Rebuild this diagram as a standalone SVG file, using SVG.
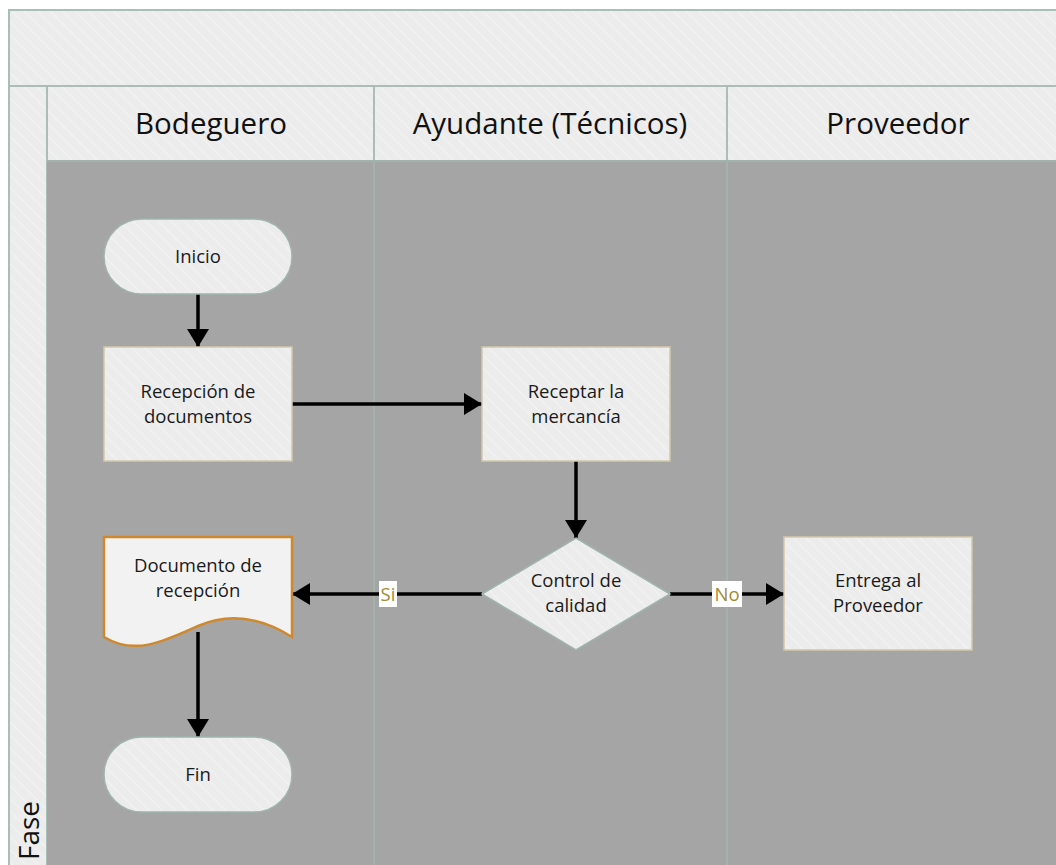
<svg xmlns="http://www.w3.org/2000/svg" width="1056" height="865" viewBox="0 0 1056 865">
<defs>
<pattern id="hatch" width="9" height="9" patternUnits="userSpaceOnUse" patternTransform="rotate(-45)">
<rect width="9" height="9" fill="#ececec"/>
<line x1="0" y1="0" x2="0" y2="9" stroke="#f6f6f6" stroke-width="1.5"/>
</pattern>
<marker id="ah" markerWidth="20" markerHeight="22" refX="18" refY="11" orient="auto" markerUnits="userSpaceOnUse">
<path d="M0,0 L18,11 L0,22 Z" fill="#000"/>
</marker>
<style>
.hdr{fill:url(#hatch);stroke:#a9bfb6;stroke-width:2}
.lane{fill:#a5a5a5}
.div{stroke:#9fb5ac;stroke-width:2}
.term{fill:url(#hatch);stroke:#9fb5ac;stroke-width:1.5}
.proc{fill:url(#hatch);stroke:#d2c8a8;stroke-width:1.5}
.dec{fill:url(#hatch);stroke:#9fb5ac;stroke-width:1.5}
.doc{fill:#f2f2f2;stroke:#d0882c;stroke-width:2.5}
.t{font-family:"Open Sans","Noto Sans",sans-serif;font-size:18.5px;fill:#1a1a1a;text-anchor:middle}
.h{font-family:"Open Sans","Noto Sans",sans-serif;font-size:29.5px;fill:#111;text-anchor:middle}
.c{stroke:#000;stroke-width:3.5;fill:none}
.lb{fill:#fff}
.lt{font-family:"Open Sans","Noto Sans",sans-serif;font-size:18.5px;fill:#a08a35;text-anchor:middle}
</style>
</defs>
<rect width="1056" height="865" fill="#fff"/>
<g id="pool">
<rect class="hdr" x="9" y="10" width="1060" height="76"/>
<rect class="hdr" x="9" y="86" width="38" height="790"/>
<rect class="lane" x="47" y="161" width="1020" height="710"/>
<rect class="hdr" x="47" y="86" width="327" height="75"/>
<rect class="hdr" x="374" y="86" width="353" height="75"/>
<rect class="hdr" x="727" y="86" width="340" height="75"/>
<line class="div" x1="374" y1="161" x2="374" y2="865"/>
<line class="div" x1="727" y1="161" x2="727" y2="865"/>
<line class="div" x1="47" y1="161" x2="1056" y2="161"/>
<text class="h" x="211" y="134">Bodeguero</text>
<text class="h" x="550" y="134">Ayudante (Técnicos)</text>
<text class="h" x="898" y="134">Proveedor</text>
<text class="h" x="0" y="0" transform="translate(39,860) rotate(-90)" style="text-anchor:start;font-size:28px">Fase</text>
</g>
<g id="connectors">
<line class="c" x1="198" y1="294" x2="198" y2="347" marker-end="url(#ah)"/>
<line class="c" x1="292" y1="404" x2="482" y2="404" marker-end="url(#ah)"/>
<line class="c" x1="576" y1="461" x2="576" y2="538" marker-end="url(#ah)"/>
<line class="c" x1="482" y1="594" x2="292" y2="594" marker-end="url(#ah)"/>
<line class="c" x1="670" y1="594" x2="784" y2="594" marker-end="url(#ah)"/>
<line class="c" x1="198" y1="632" x2="198" y2="737" marker-end="url(#ah)"/>
<rect class="lb" x="379" y="581" width="18" height="26"/>
<text class="lt" x="388" y="601">Si</text>
<rect class="lb" x="712" y="581" width="30" height="26"/>
<text class="lt" x="727" y="601">No</text>
</g>
<g id="inicio">
<rect class="term" x="104" y="219" width="188" height="75" rx="37.5"/>
<text class="t" x="198" y="263">Inicio</text>
</g>
<g id="recepcion">
<rect class="proc" x="104" y="347" width="188" height="114"/>
<text class="t" x="198" y="398">Recepción de</text>
<text class="t" x="198" y="423">documentos</text>
</g>
<g id="receptar">
<rect class="proc" x="482" y="347" width="188" height="114"/>
<text class="t" x="576" y="398">Receptar la</text>
<text class="t" x="576" y="423">mercancía</text>
</g>
<g id="control">
<polygon class="dec" points="576,538 670,594 576,650 482,594"/>
<text class="t" x="576" y="587">Control de</text>
<text class="t" x="576" y="612">calidad</text>
</g>
<g id="documento">
<path class="doc" d="M104,537 H292 V637 C262,618 230,612 198,626 C165,641 135,656 104,637 Z"/>
<text class="t" x="198" y="572">Documento de</text>
<text class="t" x="198" y="597">recepción</text>
</g>
<g id="entrega">
<rect class="proc" x="784" y="537" width="188" height="113"/>
<text class="t" x="878" y="587">Entrega al</text>
<text class="t" x="878" y="612">Proveedor</text>
</g>
<g id="fin">
<rect class="term" x="104" y="737" width="188" height="75" rx="37.5"/>
<text class="t" x="198" y="781">Fin</text>
</g>
</svg>
